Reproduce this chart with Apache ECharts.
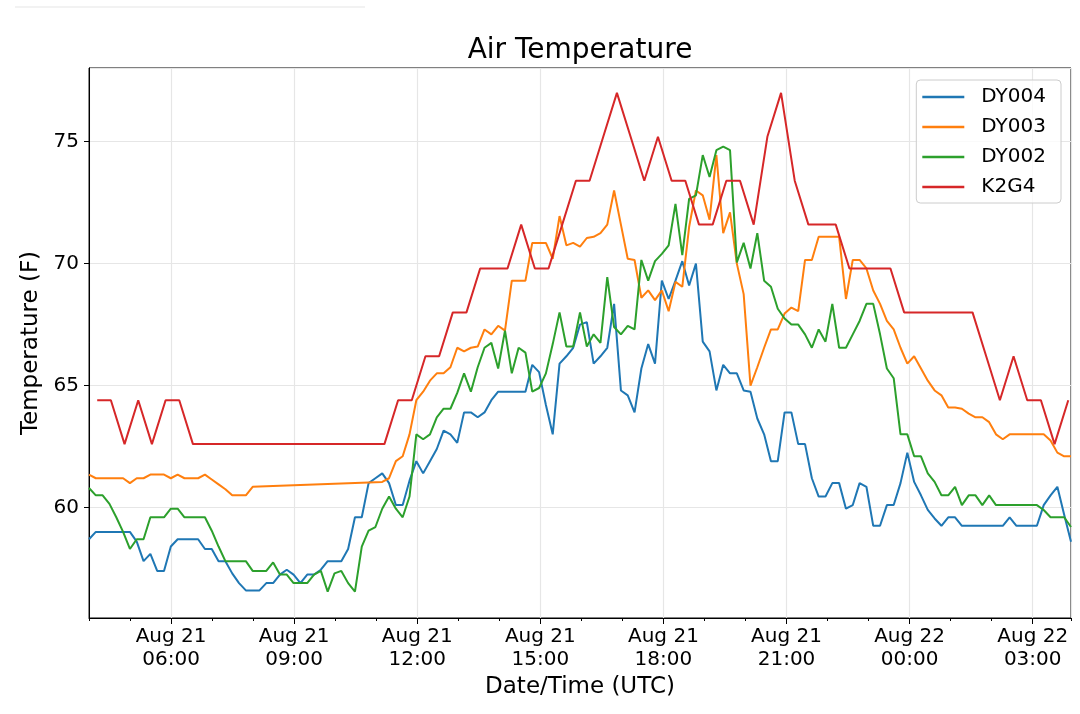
<!DOCTYPE html>
<html>
<head>
<meta charset="utf-8">
<title>Air Temperature</title>
<script src="https://cdn.jsdelivr.net/npm/echarts@6/dist/echarts.min.js"></script>
<style>
  html, body { margin: 0; padding: 0; background: #fff; }
  #chart { width: 1080px; height: 714px; }
</style>
</head>
<body>
<div id="chart"></div>
<script>
// time is hours since Aug 21 00:00 UTC
const dyStart = 4.0;
const dyEnd = 27.9333; // loggers run 04:00 -> 03:56 next day
const k2g4Start = 4.2; // airport obs every 20 min
const k2g4Step = 1 / 3;

const seriesNames = ["DY004", "DY003", "DY002", "K2G4"];
const colors = ["#1f77b4", "#ff7f0e", "#2ca02c", "#d62728"];

const dy004 = [
  58.7, 59.0, 59.0, 59.0, 59.0, 59.0, 59.0, 58.6, 57.8, 58.1,
  57.4, 57.4, 58.4, 58.7, 58.7, 58.7, 58.7, 58.3, 58.3, 57.8,
  57.8, 57.3, 56.9, 56.6, 56.6, 56.6, 56.9, 56.9, 57.25, 57.45,
  57.25, 56.9, 57.25, 57.25, 57.45, 57.8, 57.8, 57.8, 58.3, 59.6,
  59.6, 61.0, 61.2, 61.4, 61.0, 60.1, 60.1, 61.1, 61.9, 61.4,
  61.9, 62.4, 63.15, 63.0, 62.65, 63.9, 63.9, 63.7, 63.9, 64.4,
  64.75, 64.75, 64.75, 64.75, 64.75, 65.85, 65.55, 64.2, 63.0, 65.9,
  66.2, 66.55, 67.5, 67.6, 65.9, 66.2, 66.55, 68.35, 64.8, 64.6,
  63.9, 65.7, 66.7, 65.9, 69.3, 68.55, 69.3, 70.1, 69.1, 70.0,
  66.8, 66.4, 64.8, 65.85, 65.5, 65.5, 64.8, 64.75, 63.65, 63.0,
  61.9, 61.9, 63.9, 63.9, 62.6, 62.6, 61.2, 60.45, 60.45, 61.0,
  61.0, 59.95, 60.1, 61.0, 60.85, 59.25, 59.25, 60.1, 60.1, 61.0,
  62.25, 61.05, 60.5, 59.9, 59.55, 59.25, 59.6, 59.6, 59.25, 59.25,
  59.25, 59.25, 59.25, 59.25, 59.25, 59.6, 59.25, 59.25, 59.25, 59.25,
  60.1, 60.5, 60.85, 59.7, 58.6
];

// DY003 has a gap in the morning (no rows), drawn as a straight join
const dy003 = [
  61.35, 61.2, 61.2, 61.2, 61.2, 61.2, 61.0, 61.2, 61.2, 61.35,
  61.35, 61.35, 61.2, 61.35, 61.2, 61.2, 61.2, 61.35, 61.15, 60.95,
  60.75, 60.5, 60.5, 60.5, 60.85, null, null, null, null, null,
  null, null, null, null, null, null, null, null, null, null,
  null, null, null, 61.05, 61.2, 61.9, 62.1, 63.0, 64.4, 64.75,
  65.2, 65.5, 65.5, 65.75, 66.55, 66.4, 66.55, 66.6, 67.3, 67.1,
  67.45, 67.25, 69.3, 69.3, 69.3, 70.85, 70.85, 70.85, 70.2, 71.95,
  70.75, 70.85, 70.7, 71.05, 71.1, 71.25, 71.6, 73.0, 71.6, 70.2,
  70.15, 68.6, 68.9, 68.5, 68.9, 68.05, 69.25, 69.05, 71.5, 73.0,
  72.8, 71.8, 74.45, 71.25, 72.1, 70.0, 68.75, 65.0, 65.75, 66.55,
  67.3, 67.3, 67.95, 68.2, 68.05, 70.15, 70.15, 71.1, 71.1, 71.1,
  71.1, 68.55, 70.15, 70.15, 69.8, 68.9, 68.35, 67.65, 67.3, 66.55,
  65.9, 66.2, 65.7, 65.2, 64.8, 64.6, 64.1, 64.1, 64.05, 63.85,
  63.7, 63.7, 63.5, 63.0, 62.8, 63.0, 63.0, 63.0, 63.0, 63.0,
  63.0, 62.75, 62.25, 62.1, 62.1
];

const dy002 = [
  60.8, 60.5, 60.5, 60.15, 59.6, 59.0, 58.3, 58.7, 58.7, 59.6,
  59.6, 59.6, 59.95, 59.95, 59.6, 59.6, 59.6, 59.6, 59.05, 58.4,
  57.8, 57.8, 57.8, 57.8, 57.4, 57.4, 57.4, 57.75, 57.25, 57.25,
  56.9, 56.9, 56.9, 57.25, 57.4, 56.55, 57.3, 57.4, 56.9, 56.55,
  58.4, 59.05, 59.2, 59.95, 60.45, 59.95, 59.6, 60.45, 63.0, 62.8,
  63.0, 63.7, 64.05, 64.05, 64.7, 65.5, 64.75, 65.75, 66.55, 66.75,
  65.7, 67.25, 65.5, 66.55, 66.35, 64.75, 64.9, 65.5, 66.7, 68.0,
  66.6, 66.6, 68.0, 66.6, 67.1, 66.75, 69.45, 67.4, 67.1, 67.45,
  67.3, 70.15, 69.3, 70.1, 70.4, 70.75, 72.45, 70.35, 72.65, 72.8,
  74.45, 73.55, 74.65, 74.8, 74.65, 70.05, 70.85, 69.8, 71.25, 69.3,
  69.05, 68.15, 67.75, 67.5, 67.5, 67.1, 66.55, 67.3, 66.8, 68.35,
  66.55, 66.55, 67.1, 67.65, 68.35, 68.35, 67.1, 65.7, 65.3, 63.0,
  63.0, 62.1, 62.1, 61.4, 61.05, 60.5, 60.5, 60.85, 60.1, 60.5,
  60.5, 60.1, 60.5, 60.1, 60.1, 60.1, 60.1, 60.1, 60.1, 60.1,
  59.9, 59.6, 59.6, 59.6, 59.2
];

const k2g4 = [
  64.4, 64.4, 62.6, 64.4, 62.6, 64.4, 64.4, 62.6, 62.6, 62.6,
  62.6, 62.6, 62.6, 62.6, 62.6, 62.6, 62.6, 62.6, 62.6, 62.6,
  62.6, 62.6, 64.4, 64.4, 66.2, 66.2, 68.0, 68.0, 69.8, 69.8,
  69.8, 71.6, 69.8, 69.8, 71.6, 73.4, 73.4, 75.2, 77.0, 75.2,
  73.4, 75.2, 73.4, 73.4, 71.6, 71.6, 73.4, 73.4, 71.6, 75.2,
  77.0, 73.4, 71.6, 71.6, 71.6, 69.8, 69.8, 69.8, 69.8, 68.0,
  68.0, 68.0, 68.0, 68.0, 68.0, 66.2, 64.4, 66.2, 64.4, 64.4,
  62.6, 64.4
];

const dyTimes = dy004.map((_, i) => dyStart + i * (dyEnd - dyStart) / (dy004.length - 1));
const k2g4Times = k2g4.map((_, i) => k2g4Start + i * k2g4Step);

const pairs = (ts, vs) => ts.map((t, i) => [t, vs[i]]);
const seriesData = [
  pairs(dyTimes, dy004),
  pairs(dyTimes, dy003),
  pairs(dyTimes, dy002),
  pairs(k2g4Times, k2g4)
];

const FONT = "DejaVu Sans";
const gridColor = "#e6e6e6";

const chart = echarts.init(document.getElementById("chart"));

let option = {
  animation: false,
  backgroundColor: "#fff",
  textStyle: { fontFamily: FONT, color: "#000" },
  title: {
    text: "Air Temperature",
    left: 580,
    top: 37,
    textAlign: "center",
    padding: 0,
    textStyle: { fontFamily: FONT, fontSize: 28, fontWeight: "normal", color: "#000" }
  },
  legend: {
    data: seriesNames,
    orient: "vertical",
    right: 19,
    top: 80,
    align: "left",
    icon: "rect",
    itemWidth: 42,
    itemHeight: 2.5,
    itemGap: 10,
    padding: [7, 15, 6, 6],
    borderColor: "#cccccc",
    borderWidth: 1,
    borderRadius: 4,
    backgroundColor: "rgba(255,255,255,0.8)",
    textStyle: { fontFamily: FONT, fontSize: 20, color: "#000", padding: [0, 0, 0, 12] }
  },
  grid: {
    left: 89, right: 9, top: 68, bottom: 96,
    show: true, borderColor: "#000", borderWidth: 1
  },
  xAxis: [
    {
      type: "value",
      min: dyStart,
      max: dyEnd,
      splitNumber: 8, // gives 3 hour steps
      name: "Date/Time (UTC)",
      nameLocation: "middle",
      nameGap: 56,
      nameTextStyle: { fontFamily: FONT, fontSize: 23, color: "#000" },
      axisLine: { show: true, onZero: false, lineStyle: { color: "#000", width: 1 } },
      axisTick: { show: true, length: 6, lineStyle: { color: "#000", width: 1 } },
      axisLabel: {
        showMinLabel: false,
        showMaxLabel: false,
        margin: 7,
        fontFamily: FONT,
        fontSize: 20,
        lineHeight: 23,
        color: "#000",
        formatter: function (v) {
          const h = Math.round(v);
          const day = h < 24 ? 21 : 22;
          const hh = String(h % 24).padStart(2, "0");
          return "Aug " + day + "\n" + hh + ":00";
        }
      },
      splitLine: { show: true, lineStyle: { color: gridColor, width: 1.2 } }
    },
    {
      // hourly minor ticks
      type: "value",
      position: "bottom",
      min: dyStart,
      max: dyEnd,
      interval: 1,
      axisLine: { show: false },
      axisTick: { show: true, length: 3, lineStyle: { color: "#000", width: 1 } },
      axisLabel: { show: false },
      splitLine: { show: false }
    }
  ],
  yAxis: {
    type: "value",
    min: 55.47,
    max: 78.02,
    splitNumber: 5,
    name: "Temperature (F)",
    nameLocation: "middle",
    nameGap: 39,
    nameTextStyle: { fontFamily: FONT, fontSize: 23, color: "#000" },
    axisLine: { show: true, onZero: false, lineStyle: { color: "#000", width: 1 } },
    axisTick: { show: true, length: 5, lineStyle: { color: "#000", width: 1 } },
    axisLabel: {
      showMinLabel: false,
      showMaxLabel: false,
      margin: 10,
      fontFamily: FONT,
      fontSize: 20,
      color: "#000"
    },
    splitLine: { show: true, lineStyle: { color: gridColor, width: 1.2 } }
  },
  graphic: [
    {
      type: "line",
      shape: { x1: 15, y1: 7, x2: 365, y2: 7 },
      style: { stroke: "#eeeeee", lineWidth: 1.5 }
    }
  ],
  series: seriesNames.map((name, i) => ({
    name: name,
    type: "line",
    data: seriesData[i],
    showSymbol: false,
    symbol: "none",
    connectNulls: true,
    color: colors[i],
    lineStyle: { color: colors[i], width: 2 },
    emphasis: { disabled: true }
  }))
};

chart.setOption(option);
</script>
</body>
</html>
